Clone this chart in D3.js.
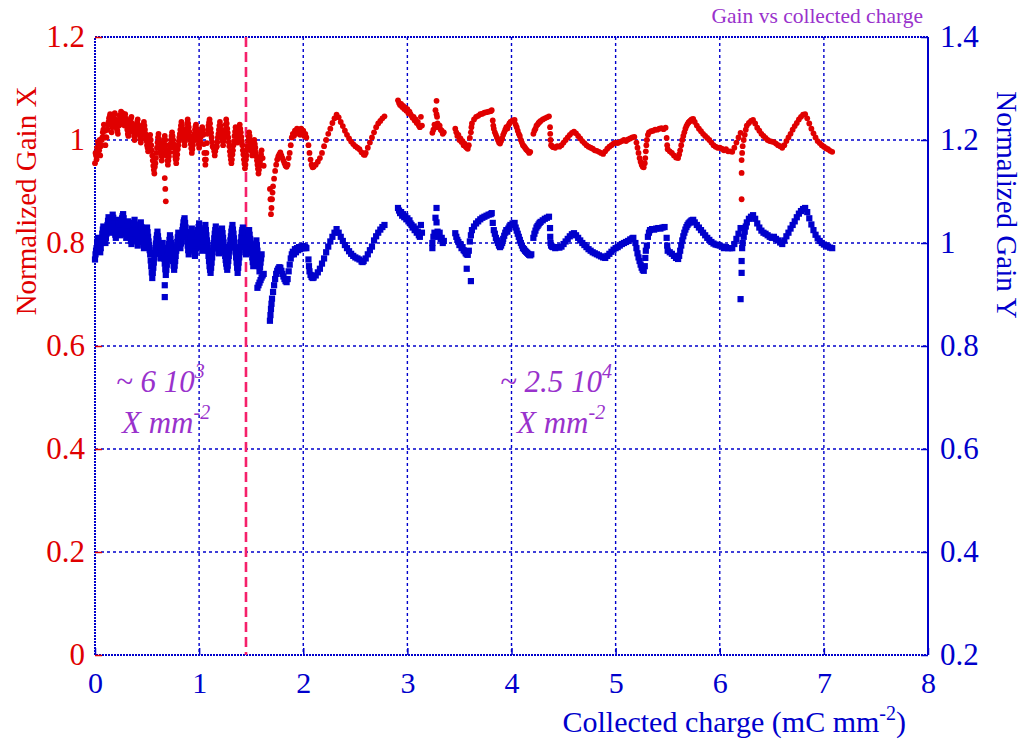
<!DOCTYPE html>
<html><head><meta charset="utf-8">
<script src="https://cdn.jsdelivr.net/npm/d3@7"></script>
<style>
html,body{margin:0;padding:0;background:#fff;}
svg{display:block;font-family:"Liberation Serif","Times New Roman",serif;}
</style></head><body>
<svg id="chart" width="1024" height="744"></svg>
<script>
// Axis ticks
const chargeTicks = [0,1,2,3,4,5,6,7,8];
const gainXTicks = [0,0.2,0.4,0.6,0.8,1,1.2];
const gainYTicks = [0.2,0.4,0.6,0.8,1,1.2,1.4];
// Charge at which the irradiation flux was changed
const fluxChange = [1.45];

// Normalized gain, X strips: [collected charge (mC/mm2), gain]
const gainXPoints = [
[0.00,0.955],[0.01,0.970],[0.02,0.985],[0.03,0.995],[0.04,0.980],[0.05,0.970],[0.06,0.990],[0.07,1.005],[0.08,1.020],[0.09,1.005],
[0.10,0.990],[0.11,1.005],[0.12,1.020],[0.13,1.035],[0.14,1.045],[0.15,1.030],[0.16,1.015],[0.17,1.030],[0.18,1.045],[0.19,1.052],
[0.20,1.038],[0.21,1.022],[0.22,1.012],[0.23,1.028],[0.24,1.042],[0.25,1.055],[0.26,1.045],[0.27,1.030],[0.28,1.040],[0.29,1.050],
[0.30,1.035],[0.31,1.020],[0.32,1.008],[0.33,1.022],[0.34,1.038],[0.35,1.045],[0.36,1.030],[0.37,1.015],[0.38,1.000],[0.39,1.015],
[0.40,1.030],[0.41,1.040],[0.42,1.025],[0.43,1.010],[0.44,0.995],[0.45,1.010],[0.46,1.025],[0.47,1.035],[0.48,1.020],[0.49,1.005],
[0.50,0.990],[0.51,0.978],[0.52,0.995],[0.53,1.010],[0.54,0.990],[0.55,0.970],[0.56,0.950],[0.57,0.935],[0.58,0.955],[0.59,0.975],
[0.60,0.995],[0.61,1.012],[0.62,0.995],[0.63,0.978],[0.64,0.960],[0.65,0.975],[0.66,0.992],[0.67,1.008],[0.68,0.990],[0.69,0.970],
[0.67,0.926],[0.675,0.905],[0.68,0.881],
[0.70,0.952],[0.71,0.968],[0.72,0.985],[0.73,1.000],[0.74,1.015],[0.75,1.000],[0.76,0.985],[0.77,0.968],[0.78,0.955],[0.79,0.972],
[0.80,0.990],[0.81,1.005],[0.82,1.020],[0.83,1.035],[0.84,1.020],[0.85,1.005],[0.86,0.990],[0.87,1.005],[0.88,1.022],[0.89,1.040],
[0.90,1.025],[0.91,1.008],[0.92,0.992],[0.93,0.975],[0.94,0.990],[0.95,1.005],[0.96,1.020],[0.97,1.030],[0.98,1.015],[0.99,1.000],
[1.00,0.985],[1.01,0.998],[1.02,1.012],[1.03,1.025],[1.04,1.010],[1.05,0.975],[1.06,0.952],[1.07,0.975],[1.08,1.012],[1.09,1.028],
[1.10,1.040],[1.11,1.022],[1.12,1.005],[1.13,0.988],[1.14,0.985],[1.15,0.970],[1.16,0.985],[1.17,0.988],[1.18,1.005],[1.19,1.020],
[1.20,1.035],[1.21,1.020],[1.22,1.005],[1.23,0.990],[1.24,1.005],[1.25,1.020],[1.26,1.040],[1.27,1.022],[1.28,1.005],[1.29,0.988],
[1.30,0.970],[1.31,0.955],[1.32,0.972],[1.33,0.990],[1.34,1.008],[1.35,1.025],[1.36,1.010],[1.37,0.995],[1.38,1.012],[1.39,1.030],
[1.40,1.015],[1.41,0.998],[1.42,0.980],[1.43,0.962],[1.44,0.945],[1.45,0.962],[1.46,0.980],[1.47,0.998],[1.48,1.015],[1.49,1.000],
[1.50,0.985],[1.51,0.970],[1.52,0.985],[1.53,1.000],[1.54,0.985],[1.55,0.968],[1.56,0.952],[1.57,0.935],[1.58,0.950],[1.59,0.965],
[1.60,0.980],[1.61,0.965],[1.62,0.950],
[0.005,0.975],[0.015,0.962],[0.025,0.975],[0.035,0.990],[0.045,1.000],[0.055,0.988],[0.065,1.000],[0.075,1.015],[0.085,1.030],[0.095,1.018],
[0.105,1.005],[0.115,1.020],[0.125,1.030],[0.135,1.042],[0.145,1.050],[0.155,1.040],[0.165,1.025],[0.175,1.038],[0.185,1.050],[0.195,1.040],
[0.205,1.028],[0.215,1.018],[0.225,1.035],[0.235,1.048],[0.245,1.038],[0.255,1.048],[0.265,1.052],[0.275,1.038],[0.285,1.028],[0.295,1.042],
[0.305,1.028],[0.315,1.012],[0.325,1.015],[0.335,1.030],[0.345,1.042],[0.355,1.032],[0.365,1.022],[0.375,1.008],[0.385,1.008],[0.395,1.022],
[0.405,1.035],[0.415,1.030],[0.425,1.018],[0.435,1.002],[0.445,1.002],[0.455,1.018],[0.465,1.030],[0.475,1.028],[0.485,1.012],[0.495,0.998],
[0.505,0.985],[0.515,0.988],[0.525,1.002],[0.535,1.000],[0.545,0.980],[0.555,0.960],[0.565,0.942],[0.575,0.948],[0.585,0.965],[0.595,0.985],
[0.605,1.005],[0.615,1.002],[0.625,0.985],[0.635,0.970],[0.645,0.968],[0.655,0.985],[0.665,1.000],[0.675,1.000],[0.685,0.980],[0.695,0.960],
[0.705,0.960],[0.715,0.976],[0.725,0.992],[0.735,1.008],[0.745,1.008],[0.755,0.992],[0.765,0.976],[0.775,0.962],[0.785,0.964],[0.795,0.982],
[0.805,0.998],[0.815,1.012],[0.825,1.028],[0.835,1.028],[0.845,1.012],[0.855,0.998],[0.865,0.998],[0.875,1.014],[0.885,1.032],[0.895,1.032],
[0.905,1.016],[0.915,1.000],[0.925,0.984],[0.935,0.982],[0.945,0.998],[0.955,1.012],[0.965,1.026],[0.975,1.022],[0.985,1.008],[0.995,0.992],
[1.005,0.992],[1.015,1.006],[1.025,1.018],[1.035,1.018],[1.045,0.992],[1.055,0.962],[1.065,0.962],[1.075,0.994],[1.085,1.020],[1.095,1.034],
[1.105,1.032],[1.115,1.014],[1.125,0.996],[1.135,0.986],[1.145,0.978],[1.155,0.978],[1.165,0.986],[1.175,0.996],[1.185,1.012],[1.195,1.028],
[1.205,1.028],[1.215,1.012],[1.225,0.998],[1.235,0.998],[1.245,1.012],[1.255,1.030],[1.265,1.032],[1.275,1.014],[1.285,0.996],[1.295,0.978],
[1.305,0.962],[1.315,0.962],[1.325,0.980],[1.335,0.998],[1.345,1.016],[1.355,1.018],[1.365,1.002],[1.375,1.004],[1.385,1.020],[1.395,1.022],
[1.405,1.006],[1.415,0.990],[1.425,0.972],[1.435,0.954],[1.445,0.952],[1.455,0.970],[1.465,0.988],[1.475,1.006],[1.485,1.008],[1.495,0.992],
[1.505,0.978],[1.515,0.976],[1.525,0.992],[1.535,0.992],[1.545,0.976],[1.555,0.960],[1.565,0.944],[1.575,0.942],[1.585,0.958],[1.595,0.972],
[1.68,0.905],[1.685,0.885],[1.69,0.856],[1.695,0.868],[1.70,0.885],[1.705,0.898],[1.71,0.910],[1.72,0.925],[1.73,0.940],[1.74,0.952],
[1.75,0.962],[1.76,0.968],[1.77,0.972],[1.78,0.976],[1.79,0.970],[1.80,0.965],[1.81,0.960],[1.82,0.955],[1.83,0.950],[1.84,0.948],
[1.85,0.952],[1.86,0.965],[1.87,0.975],[1.88,0.990],[1.89,1.005],[1.90,1.012],[1.91,1.008],[1.92,1.018],[1.93,1.012],[1.94,1.022],
[1.95,1.015],[1.96,1.020],[1.97,1.010],[1.98,1.022],[1.99,1.015],[2.00,1.018],[2.01,1.008],[2.02,1.012],[2.03,1.005],[2.05,0.990],
[2.06,0.975],[2.07,0.962],[2.08,0.952],[2.09,0.947],[2.10,0.948],[2.12,0.952],[2.14,0.958],[2.16,0.965],[2.18,0.975],[2.20,0.988],
[2.22,1.000],[2.24,1.012],[2.26,1.022],[2.28,1.033],[2.30,1.042],[2.32,1.049],[2.34,1.044],[2.36,1.035],[2.38,1.027],[2.40,1.018],
[2.42,1.010],[2.44,1.003],[2.46,0.997],[2.48,0.992],[2.50,0.988],[2.52,0.985],[2.54,0.982],[2.56,0.976],[2.58,0.972],[2.59,0.971],
[2.60,0.975],[2.62,0.985],[2.64,0.995],[2.66,1.005],[2.68,1.015],[2.70,1.025],[2.72,1.032],[2.74,1.037],[2.76,1.042],[2.78,1.046],
[2.91,1.077],[2.92,1.072],[2.93,1.068],[2.94,1.070],[2.95,1.064],[2.96,1.066],[2.97,1.060],[2.98,1.063],[2.99,1.057],[3.00,1.060],
[3.01,1.052],[3.02,1.055],[3.03,1.050],[3.04,1.047],[3.05,1.043],[3.06,1.045],[3.07,1.038],[3.08,1.040],[3.09,1.033],[3.10,1.035],
[3.11,1.028],[3.12,1.025],[3.13,1.045],[3.14,1.028],
[3.28,1.076],[3.27,1.058],[3.28,1.050],[3.285,1.045],[3.24,1.014],[3.25,1.020],[3.26,1.030],[3.27,1.025],[3.29,1.032],[3.30,1.025],
[3.31,1.028],[3.32,1.020],[3.33,1.018],[3.34,1.012],[3.35,1.015],
[3.46,1.022],[3.47,1.015],[3.48,1.008],[3.49,1.010],[3.50,1.000],[3.51,1.003],[3.52,0.996],[3.53,0.998],[3.54,0.990],[3.55,0.993],
[3.56,0.987],[3.57,0.985],[3.58,0.983],[3.59,0.990],[3.60,1.004],[3.61,1.015],[3.615,1.025],[3.62,1.032],[3.64,1.040],[3.66,1.045],
[3.68,1.047],[3.70,1.050],[3.72,1.051],[3.74,1.053],[3.76,1.054],[3.78,1.055],[3.80,1.056],[3.81,1.058],[3.82,1.038],[3.825,1.028],
[3.83,1.022],[3.84,1.015],[3.85,1.010],[3.86,1.005],[3.87,1.000],[3.88,0.995],[3.89,0.993],[3.90,0.998],[3.91,1.003],[3.92,1.010],
[3.93,1.015],[3.94,1.020],[3.95,1.025],[3.96,1.022],[3.97,1.028],[3.98,1.032],[3.99,1.035],[4.01,1.038],[4.03,1.039],[4.04,1.030],
[4.05,1.025],[4.06,1.018],[4.07,1.012],[4.08,1.008],[4.09,1.000],[4.10,0.995],[4.11,0.990],[4.12,0.988],[4.13,0.985],[4.14,0.982],
[4.15,0.980],[4.16,0.978],[4.17,0.975],[4.18,0.977],
[4.21,1.012],[4.22,1.018],[4.23,1.022],[4.24,1.028],[4.25,1.030],[4.26,1.033],[4.27,1.035],[4.28,1.037],[4.30,1.040],[4.32,1.042],
[4.34,1.044],[4.36,1.046],[4.37,1.025],[4.372,1.012],[4.375,1.000],[4.38,0.990],[4.39,0.988],[4.40,0.986],[4.42,0.985],[4.44,0.988],
[4.46,0.987],[4.48,0.990],[4.50,0.995],[4.52,1.000],[4.54,1.005],[4.56,1.010],[4.58,1.014],[4.60,1.016],[4.62,1.013],[4.64,1.008],
[4.66,1.003],[4.68,0.998],[4.70,0.994],[4.72,0.990],[4.74,0.987],[4.76,0.985],[4.78,0.983],[4.80,0.980],[4.82,0.979],[4.84,0.977],
[4.86,0.975],[4.88,0.973],[4.90,0.978],[4.92,0.983],[4.94,0.987],[4.96,0.990],[4.98,0.993],[5.00,0.995],[5.02,0.994],[5.04,0.996],
[5.06,0.998],[5.08,1.000],[5.10,0.998],[5.12,1.001],[5.14,1.003],[5.16,1.005],[5.18,1.006],
[5.20,0.995],[5.21,0.985],[5.22,0.975],[5.23,0.965],[5.24,0.958],[5.25,0.952],[5.26,0.948],[5.27,0.947],[5.28,0.955],[5.285,0.965],
[5.29,0.978],[5.295,0.990],[5.30,1.000],[5.31,1.010],[5.32,1.015],[5.34,1.017],[5.36,1.018],[5.38,1.020],[5.40,1.020],[5.42,1.022],
[5.44,1.023],[5.46,1.021],[5.48,1.024],[5.49,1.004],[5.495,0.990],[5.50,0.982],[5.52,0.978],[5.54,0.975],[5.56,0.970],[5.58,0.966],
[5.60,0.965],[5.61,0.972],[5.62,0.980],[5.63,0.990],[5.64,1.000],[5.65,1.008],[5.66,1.015],[5.67,1.022],[5.68,1.027],[5.69,1.031],
[5.70,1.034],[5.71,1.036],[5.72,1.038],[5.73,1.040],[5.745,1.041],[5.76,1.035],[5.78,1.028],[5.80,1.022],[5.82,1.017],[5.84,1.012],
[5.86,1.008],[5.88,1.004],[5.90,1.000],[5.92,0.995],[5.94,0.990],[5.96,0.987],[5.98,0.985],[6.00,0.985],[6.02,0.983],[6.04,0.980],
[6.06,0.982],[6.08,0.978],[6.10,0.978],[6.12,0.977],[6.14,0.985],[6.16,0.995],[6.18,1.005],[6.20,1.014],
[6.21,0.961],[6.21,0.936],[6.21,0.885],
[6.215,0.975],[6.22,0.988],[6.23,1.000],[6.24,1.010],[6.25,1.020],[6.26,1.028],[6.28,1.033],[6.30,1.037],[6.32,1.039],[6.34,1.032],
[6.36,1.024],[6.38,1.018],[6.40,1.012],[6.42,1.008],[6.44,1.004],[6.46,1.000],[6.48,0.998],[6.50,0.997],[6.52,0.996],[6.54,0.993],
[6.56,0.990],[6.58,0.988],[6.60,0.985],[6.62,0.990],[6.64,0.998],[6.66,1.005],[6.68,1.012],[6.70,1.020],[6.72,1.027],[6.74,1.033],
[6.76,1.040],[6.78,1.045],[6.80,1.049],[6.82,1.050],[6.84,1.042],[6.86,1.032],[6.88,1.022],[6.90,1.013],[6.92,1.005],[6.94,0.998],
[6.96,0.994],[6.98,0.990],[7.00,0.987],[7.02,0.984],[7.04,0.982],[7.06,0.979],[7.08,0.977]
];

// Normalized gain, Y strips: [collected charge (mC/mm2), gain]
const gainYPoints = [
[0.00,0.968],[0.01,0.985],[0.02,1.000],[0.03,1.010],[0.04,0.995],[0.05,0.982],[0.06,1.000],[0.07,1.018],[0.08,1.032],[0.09,1.015],
[0.10,1.000],[0.11,1.018],[0.12,1.035],[0.13,1.050],[0.14,1.035],[0.15,1.020],[0.16,1.038],[0.17,1.055],[0.18,1.040],[0.19,1.025],
[0.20,1.010],[0.21,1.028],[0.22,1.045],[0.23,1.030],[0.24,1.015],[0.25,1.032],[0.26,1.048],[0.27,1.056],[0.28,1.040],[0.29,1.025],
[0.30,1.010],[0.31,1.025],[0.32,1.042],[0.33,1.028],[0.34,1.012],[0.35,0.998],[0.36,1.015],[0.37,1.032],[0.38,1.045],[0.39,1.028],
[0.40,1.012],[0.41,0.995],[0.42,1.010],[0.43,1.025],[0.44,1.040],[0.45,1.022],[0.46,1.005],[0.47,0.990],[0.48,1.005],[0.49,1.020],
[0.50,1.030],[0.51,1.012],[0.52,0.995],[0.53,0.978],[0.54,0.955],[0.55,0.932],[0.56,0.952],[0.57,0.972],[0.58,0.990],[0.59,1.008],
[0.60,1.022],[0.61,1.005],[0.62,0.988],[0.63,0.970],[0.64,0.985],[0.65,1.000],[0.66,0.980],[0.67,0.960],[0.68,0.938],[0.69,0.958],
[0.67,0.918],[0.67,0.895],
[0.70,0.978],[0.71,0.998],[0.72,1.015],[0.73,1.000],[0.74,0.982],[0.75,0.965],[0.76,0.948],[0.77,0.965],[0.78,0.985],[0.79,1.002],
[0.80,1.020],[0.81,1.005],[0.82,0.990],[0.83,1.008],[0.84,1.025],[0.85,1.040],[0.86,1.048],[0.87,1.030],[0.88,1.012],[0.89,0.995],
[0.90,0.978],[0.91,0.995],[0.92,1.012],[0.93,1.028],[0.94,1.010],[0.95,0.992],[0.96,0.975],[0.97,0.990],[0.98,1.008],[0.99,1.025],
[1.00,1.038],[1.01,1.020],[1.02,1.002],[1.03,0.985],[1.04,1.000],[1.05,1.018],[1.06,1.035],[1.07,1.015],[1.08,0.995],[1.09,0.975],
[1.10,0.955],[1.11,0.942],[1.12,0.962],[1.13,0.982],[1.14,1.000],[1.15,1.018],[1.16,1.032],[1.17,1.015],[1.18,0.998],[1.19,0.980],
[1.20,0.995],[1.21,1.012],[1.22,1.028],[1.23,1.010],[1.24,0.992],[1.25,0.975],[1.26,0.960],[1.27,0.948],[1.28,0.965],[1.29,0.985],
[1.30,1.005],[1.31,1.022],[1.32,1.035],[1.33,1.018],[1.34,1.000],[1.35,0.982],[1.36,0.962],[1.37,0.942],[1.38,0.962],[1.39,0.982],
[1.40,1.002],[1.41,1.020],[1.42,1.030],[1.43,1.012],[1.44,0.995],[1.45,0.978],[1.46,0.995],[1.47,1.012],[1.48,1.025],[1.49,1.008],
[1.50,0.990],[1.51,0.972],[1.52,0.955],[1.53,0.972],[1.54,0.990],[1.55,1.005],[1.56,0.985],[1.57,0.965],[1.58,0.945],[1.59,0.962],
[1.60,0.978],
[0.005,0.978],[0.015,0.990],[0.025,1.006],[0.035,1.003],[0.045,0.986],[0.055,0.990],[0.065,1.010],[0.075,1.026],[0.085,1.022],[0.095,1.006],
[0.105,1.010],[0.115,1.027],[0.125,1.043],[0.135,1.042],[0.145,1.027],[0.155,1.030],[0.165,1.047],[0.175,1.049],[0.185,1.032],[0.195,1.016],
[0.205,1.020],[0.215,1.037],[0.225,1.038],[0.235,1.022],[0.245,1.024],[0.255,1.041],[0.265,1.052],[0.275,1.048],[0.285,1.032],[0.295,1.017],
[0.305,1.017],[0.315,1.034],[0.325,1.035],[0.335,1.020],[0.345,1.004],[0.355,1.006],[0.365,1.024],[0.375,1.039],[0.385,1.036],[0.395,1.020],
[0.405,1.003],[0.415,1.002],[0.425,1.018],[0.435,1.032],[0.445,1.031],[0.455,1.013],[0.465,0.997],[0.475,0.997],[0.485,1.012],[0.495,1.025],
[0.505,1.021],[0.515,1.003],[0.525,0.986],[0.535,0.966],[0.545,0.943],[0.555,0.942],[0.565,0.962],[0.575,0.981],[0.585,0.999],[0.595,1.015],
[0.605,1.013],[0.615,0.996],[0.625,0.979],[0.635,0.977],[0.645,0.992],[0.655,0.990],[0.665,0.970],[0.675,0.949],[0.685,0.948],[0.695,0.968],
[0.705,0.988],[0.715,1.006],[0.725,1.008],[0.735,0.991],[0.745,0.973],[0.755,0.956],[0.765,0.956],[0.775,0.975],[0.785,0.993],[0.795,1.011],
[0.805,1.012],[0.815,0.997],[0.825,0.999],[0.835,1.016],[0.845,1.032],[0.855,1.044],[0.865,1.039],[0.875,1.021],[0.885,1.003],[0.895,0.986],
[0.905,0.986],[0.915,1.003],[0.925,1.020],[0.935,1.019],[0.945,1.001],[0.955,0.983],[0.965,0.982],[0.975,0.999],[0.985,1.016],[0.995,1.031],
[1.005,1.029],[1.015,1.011],[1.025,0.993],[1.035,0.992],[1.045,1.009],[1.055,1.026],[1.065,1.025],[1.075,1.005],[1.085,0.985],[1.095,0.965],
[1.105,0.948],[1.115,0.952],[1.125,0.972],[1.135,0.991],[1.145,1.009],[1.155,1.025],[1.165,1.023],[1.175,1.006],[1.185,0.989],[1.195,0.987],
[1.205,1.003],[1.215,1.020],[1.225,1.019],[1.235,1.001],[1.245,0.983],[1.255,0.967],[1.265,0.954],[1.275,0.956],[1.285,0.975],[1.295,0.995],
[1.305,1.013],[1.315,1.028],[1.325,1.026],[1.335,1.009],[1.345,0.991],[1.355,0.972],[1.365,0.952],[1.375,0.952],[1.385,0.972],[1.395,0.992],
[1.405,1.011],[1.415,1.025],[1.425,1.021],[1.435,1.003],[1.445,0.986],[1.455,0.986],[1.465,1.003],[1.475,1.018],[1.485,1.016],[1.495,0.999],
[1.505,0.981],[1.515,0.963],[1.525,0.963],[1.535,0.981],[1.545,0.997],[1.555,0.995],[1.565,0.975],[1.575,0.955],[1.585,0.953],[1.595,0.970],
[1.56,0.913],[1.57,0.918],[1.58,0.923],[1.59,0.928],[1.60,0.933],[1.61,0.937],[1.62,0.940],
[1.68,0.849],[1.685,0.860],[1.69,0.872],[1.695,0.882],[1.70,0.892],[1.71,0.905],[1.72,0.918],[1.73,0.930],[1.74,0.940],[1.75,0.946],
[1.76,0.950],[1.77,0.953],[1.78,0.952],[1.79,0.946],[1.80,0.940],[1.81,0.935],[1.82,0.930],[1.83,0.926],[1.84,0.924],[1.85,0.930],
[1.86,0.945],[1.87,0.958],[1.88,0.970],[1.89,0.978],[1.90,0.983],[1.91,0.978],[1.92,0.988],[1.93,0.982],[1.94,0.990],[1.95,0.986],
[1.96,0.992],[1.97,0.988],[1.98,0.993],[1.99,0.990],[2.00,0.994],[2.01,0.990],[2.02,0.992],[2.03,0.990],[2.05,0.968],[2.055,0.955],
[2.06,0.945],[2.07,0.938],[2.08,0.934],[2.09,0.932],[2.10,0.933],[2.12,0.937],[2.14,0.943],[2.16,0.950],[2.18,0.960],[2.20,0.970],
[2.22,0.982],[2.24,0.993],[2.26,1.003],[2.28,1.012],[2.30,1.020],[2.32,1.027],[2.34,1.020],[2.36,1.012],[2.38,1.004],[2.40,0.996],
[2.42,0.990],[2.44,0.984],[2.46,0.979],[2.48,0.975],[2.50,0.972],[2.52,0.970],[2.54,0.968],[2.56,0.964],[2.57,0.963],[2.58,0.965],
[2.60,0.970],[2.62,0.978],[2.64,0.986],[2.66,0.993],[2.68,1.005],[2.70,1.013],[2.72,1.020],[2.74,1.026],[2.76,1.031],[2.78,1.035],
[2.91,1.068],[2.92,1.063],[2.93,1.058],[2.94,1.060],[2.95,1.053],[2.96,1.056],[2.97,1.050],[2.98,1.052],[2.99,1.046],[3.00,1.048],
[3.01,1.042],[3.02,1.044],[3.03,1.038],[3.04,1.035],[3.05,1.030],[3.06,1.032],[3.07,1.025],[3.08,1.028],[3.09,1.020],[3.10,1.022],
[3.11,1.015],[3.12,1.012],[3.13,1.035],[3.14,1.020],
[3.28,1.068],[3.27,1.049],[3.28,1.040],[3.24,1.000],[3.25,1.012],[3.26,1.020],[3.27,1.015],[3.29,1.022],[3.30,1.012],[3.31,1.020],
[3.32,1.008],[3.33,1.010],[3.34,1.000],[3.35,1.004],[3.24,0.990],
[3.46,1.019],[3.47,1.012],[3.48,1.006],[3.49,1.002],[3.50,0.996],[3.51,0.998],[3.52,0.990],[3.53,0.992],[3.54,0.986],[3.55,0.984],
[3.56,0.980],[3.57,0.978],[3.58,0.977],[3.59,0.985],[3.57,0.950],[3.61,0.926],
[3.60,1.003],[3.61,1.015],[3.62,1.025],[3.64,1.032],[3.66,1.038],[3.68,1.042],[3.70,1.046],[3.72,1.049],[3.74,1.051],[3.76,1.053],
[3.78,1.055],[3.80,1.056],[3.81,1.058],[3.82,1.039],[3.83,1.025],[3.84,1.018],[3.85,1.010],[3.86,1.005],[3.87,1.000],[3.88,0.995],
[3.89,0.992],[3.90,0.995],[3.91,1.000],[3.92,1.008],[3.93,1.014],[3.94,1.020],[3.95,1.025],[3.96,1.022],[3.97,1.028],[3.98,1.032],
[3.99,1.035],[4.01,1.038],[4.03,1.039],[4.04,1.030],[4.05,1.024],[4.06,1.018],[4.07,1.012],[4.08,1.006],[4.09,1.000],[4.10,0.995],
[4.11,0.990],[4.12,0.988],[4.13,0.985],[4.14,0.983],[4.15,0.981],[4.16,0.979],[4.17,0.977],[4.18,0.976],[4.19,0.978],
[4.21,1.010],[4.22,1.018],[4.23,1.024],[4.24,1.030],[4.25,1.033],[4.26,1.036],[4.27,1.039],[4.28,1.041],[4.30,1.044],[4.32,1.047],
[4.34,1.049],[4.36,1.051],[4.37,1.029],[4.372,1.012],[4.375,1.000],[4.38,0.995],[4.39,0.993],[4.40,0.992],[4.42,0.990],[4.44,0.992],
[4.46,0.991],[4.48,0.993],[4.50,0.998],[4.52,1.003],[4.54,1.008],[4.56,1.013],[4.58,1.017],[4.60,1.019],[4.62,1.015],[4.64,1.010],
[4.66,1.005],[4.68,1.000],[4.70,0.996],[4.72,0.992],[4.74,0.988],[4.76,0.985],[4.78,0.982],[4.80,0.980],[4.82,0.978],[4.84,0.976],
[4.86,0.974],[4.88,0.972],[4.90,0.971],[4.92,0.975],[4.94,0.979],[4.96,0.983],[4.98,0.987],[5.00,0.990],[5.02,0.992],[5.04,0.995],
[5.06,0.998],[5.08,1.000],[5.10,1.002],[5.12,1.004],[5.14,1.007],[5.16,1.009],[5.17,1.010],
[5.19,1.000],[5.20,0.990],[5.21,0.980],[5.22,0.972],[5.23,0.965],[5.24,0.958],[5.25,0.952],[5.26,0.948],[5.27,0.946],[5.28,0.955],
[5.285,0.971],[5.29,0.985],[5.30,0.995],[5.31,1.012],[5.32,1.020],[5.33,1.025],[5.35,1.027],[5.37,1.026],[5.39,1.028],[5.41,1.029],
[5.43,1.028],[5.45,1.030],[5.47,1.031],[5.49,1.010],[5.495,0.995],[5.50,0.985],[5.52,0.982],[5.54,0.979],[5.56,0.975],[5.58,0.971],
[5.60,0.969],[5.61,0.975],[5.62,0.985],[5.63,0.995],[5.64,1.005],[5.65,1.013],[5.66,1.020],[5.67,1.026],[5.68,1.031],[5.69,1.035],
[5.70,1.038],[5.71,1.040],[5.72,1.042],[5.73,1.044],[5.745,1.045],[5.76,1.040],[5.78,1.035],[5.80,1.030],[5.82,1.025],[5.84,1.020],
[5.86,1.015],[5.88,1.010],[5.90,1.006],[5.92,1.002],[5.94,0.999],[5.96,0.997],[5.98,0.996],[6.00,0.995],[6.02,0.993],[6.04,0.990],
[6.06,0.992],[6.08,0.990],[6.10,0.990],[6.12,0.990],[6.14,0.998],[6.16,1.008],[6.18,1.018],[6.20,1.029],
[6.21,0.965],[6.21,0.942],[6.20,0.891],
[6.215,0.990],[6.22,1.000],[6.23,1.012],[6.24,1.022],[6.25,1.032],[6.26,1.040],[6.28,1.047],[6.30,1.051],[6.32,1.054],[6.34,1.047],
[6.36,1.038],[6.38,1.030],[6.40,1.024],[6.42,1.020],[6.44,1.018],[6.46,1.015],[6.48,1.012],[6.50,1.010],[6.52,1.012],[6.54,1.008],
[6.56,1.005],[6.58,1.001],[6.60,0.998],[6.62,1.005],[6.64,1.013],[6.66,1.020],[6.68,1.028],[6.70,1.035],[6.72,1.042],[6.74,1.050],
[6.76,1.057],[6.78,1.062],[6.80,1.066],[6.82,1.068],[6.84,1.060],[6.86,1.048],[6.88,1.036],[6.90,1.025],[6.92,1.016],[6.94,1.009],
[6.96,1.004],[6.98,1.000],[7.00,0.997],[7.02,0.995],[7.04,0.993],[7.06,0.991],[7.08,0.990]
];

const RED = "#e00000", BLUE = "#0000cc", PURPLE = "#9932cc", PINK = "#f5206a";
const plot = {left: 95, right: 928, top: 37, bottom: 655};

const svg = d3.select("#chart");
const x = d3.scaleLinear().domain([0, 8]).range([plot.left, plot.right]);
const yL = d3.scaleLinear().domain([0, 1.2]).range([plot.bottom, plot.top]);
const yR = d3.scaleLinear().domain([0.2, 1.4]).range([plot.bottom, plot.top]);
const fmt = d3.format("~g");

// dotted grid
const grid = svg.append("g").attr("stroke", BLUE).attr("stroke-width", 1.4).attr("stroke-dasharray", "3,3");
grid.selectAll(".gv").data(chargeTicks.filter(d => d > 0 && d < 8)).join("line")
  .attr("x1", d => x(d)).attr("x2", d => x(d)).attr("y1", plot.top).attr("y2", plot.bottom);
grid.selectAll(".gh").data(gainXTicks.filter(d => d > 0 && d < 1.2)).join("line")
  .attr("x1", plot.left).attr("x2", plot.right).attr("y1", d => yL(d)).attr("y2", d => yL(d));

// frame: dotted on three sides, solid on the right
const frame = svg.append("g").attr("stroke", BLUE).attr("fill", "none");
frame.append("path").attr("stroke-width", 2).attr("stroke-dasharray", "2,1")
  .attr("d", `M${plot.right},${plot.top}H${plot.left}V${plot.bottom}H${plot.right}`);
frame.append("line").attr("stroke-width", 2)
  .attr("x1", plot.right).attr("x2", plot.right).attr("y1", plot.top).attr("y2", plot.bottom);

// axes
function styleAxis(g, color, size) {
  g.select(".domain").remove();
  g.selectAll(".tick line").attr("stroke", color).attr("stroke-width", 1.5);
  g.selectAll(".tick text").attr("fill", color).attr("font-size", size)
    .attr("font-family", '"Liberation Serif","Times New Roman",serif');
}
svg.append("g").attr("transform", `translate(0,${plot.bottom})`)
  .call(d3.axisBottom(x).tickValues(chargeTicks).tickFormat(fmt).tickSize(-7).tickPadding(17))
  .call(g => styleAxis(g, BLUE, 30));
svg.append("g").attr("transform", `translate(${plot.left},0)`)
  .call(d3.axisLeft(yL).tickValues(gainXTicks).tickFormat(fmt).tickSize(-7).tickPadding(10))
  .call(g => styleAxis(g, RED, 31));
svg.append("g").attr("transform", `translate(${plot.right},0)`)
  .call(d3.axisRight(yR).tickValues(gainYTicks).tickFormat(fmt).tickSize(-7).tickPadding(12))
  .call(g => styleAxis(g, BLUE, 31));

// flux change marker
svg.selectAll(".flux").data(fluxChange).join("line")
  .attr("x1", d => x(d)).attr("x2", d => x(d)).attr("y1", plot.top).attr("y2", plot.bottom)
  .attr("stroke", PINK).attr("stroke-width", 2.6).attr("stroke-dasharray", "10,5");

// data points
svg.append("g").selectAll("circle").data(gainXPoints).join("circle")
  .attr("cx", d => x(d[0])).attr("cy", d => yL(d[1])).attr("r", 2.9).attr("fill", RED);
const sq = 6.2;
svg.append("g").selectAll("rect").data(gainYPoints).join("rect")
  .attr("x", d => x(d[0]) - sq / 2).attr("y", d => yR(d[1]) - sq / 2)
  .attr("width", sq).attr("height", sq).attr("fill", BLUE);

// axis titles
const xt = svg.append("text").attr("x", 906).attr("y", 732).attr("text-anchor", "end")
  .attr("fill", BLUE).attr("font-size", 30);
xt.append("tspan").text("Collected charge (mC mm");
xt.append("tspan").attr("dy", -12).attr("font-size", 20).text("-2");
xt.append("tspan").attr("dy", 12).text(")");

svg.append("text").attr("transform", "translate(36,201) rotate(-90)").attr("text-anchor", "middle")
  .attr("fill", RED).attr("font-size", 29).text("Normalized Gain X");
svg.append("text").attr("transform", "translate(997,205) rotate(90)").attr("text-anchor", "middle")
  .attr("fill", BLUE).attr("font-size", 29).text("Normalized Gain Y");

svg.append("text").attr("x", 923).attr("y", 23).attr("text-anchor", "end")
  .attr("fill", PURPLE).attr("font-size", 21.5).text("Gain vs collected charge");

// flux annotations
function fluxLabel(x0, y0, base, exp) {
  const t = svg.append("text").attr("x", x0).attr("y", y0).attr("fill", PURPLE)
    .attr("font-size", 31).attr("font-style", "italic");
  t.append("tspan").text(base);
  t.append("tspan").attr("dy", -14).attr("font-size", 20).text(exp);
}
fluxLabel(116, 392, "~ 6 10", "3");
fluxLabel(122, 433, "X mm", "-2");
fluxLabel(500, 392, "~ 2.5 10", "4");
fluxLabel(517, 433, "X mm", "-2");
</script>
</body></html>
